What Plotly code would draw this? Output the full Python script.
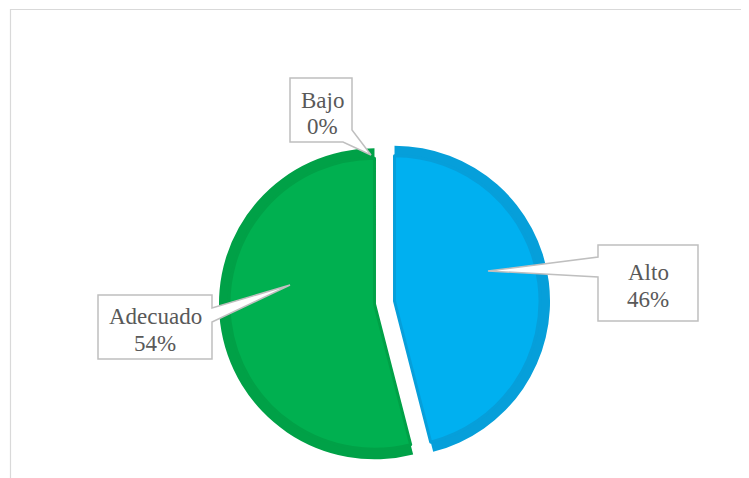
import plotly.graph_objects as go

# ---- data ----
labels = ["Alto", "Adecuado", "Bajo"]
values = [46, 54, 0]
fill_colors = ["#00B0F0", "#00B050", "#00B050"]
edge_colors = ["#069FDA", "#00A147", "#00A147"]

OFF = 8  # page body margin
W, H = 749 - OFF, 478 - OFF
total = sum(values)
name_text = labels
pct_text = [f"{round(v / total * 100)}%" for v in values]


def px(x):
    return (x - OFF) / W


def py(y):
    return 1 - (y - OFF) / H


# pie geometry in page pixels
cx, cy = 384.5, 302.5
R_outer = 155.5          # outer (darker rim) radius
R_inner = 145.5          # inner (fill) radius
explode_px = 10.1        # explosion distance of both slices
explode_mask = [1, 1, 0]


def pie_trace(radius, colors, line_w):
    pull = [m * explode_px / radius for m in explode_mask]
    half = radius + explode_px
    return go.Pie(
        labels=labels,
        values=values,
        sort=False,
        direction="clockwise",
        rotation=0,
        pull=pull,
        textinfo="none",
        hoverinfo="label+percent",
        showlegend=False,
        marker=dict(colors=colors, line=dict(color=edge_colors, width=line_w)),
        domain=dict(x=[px(cx - half), px(cx + half)], y=[py(cy + half), py(cy - half)]),
    )


fig = go.Figure()
fig.add_trace(pie_trace(R_outer, edge_colors, [0, 0, 0]))
fig.add_trace(pie_trace(R_inner, fill_colors, [3, 3, 0]))


def path(points):
    return "M " + " L ".join(f"{px(x):.5f},{py(y):.5f}" for x, y in points) + " Z"


callouts = {
    "Alto": dict(pts=[(598, 245), (698, 245), (698, 321), (598, 321), (598, 277), (488, 271), (598, 257)],
                 x=648, y=(272, 299)),
    "Adecuado": dict(pts=[(98, 295), (212, 295), (212, 308), (290, 285), (212, 322), (212, 359), (98, 359)],
                     x=155, y=(316, 343)),
    "Bajo": dict(pts=[(290, 78), (352, 78), (352, 130), (371, 155), (343, 142), (290, 142)],
                 x=322, y=(100, 127)),
}

shapes = [
    dict(type="rect", xref="paper", yref="paper",
         x0=px(10.5), y0=py(490), x1=px(770), y1=py(9.5),
         line=dict(color="#D9D9D9", width=1.2), fillcolor="rgba(0,0,0,0)", layer="below"),
]
font = dict(family="Liberation Serif", size=23, color="#595959")
annotations = []
for lab, nm, pc in zip(labels, name_text, pct_text):
    c = callouts[lab]
    shapes.append(dict(type="path", xref="paper", yref="paper", path=path(c["pts"]),
                       fillcolor="white", line=dict(color="#BFBFBF", width=1.5), layer="above"))
    for txt, yy in zip((nm, pc), c["y"]):
        annotations.append(dict(x=px(c["x"]), y=py(yy), xref="paper", yref="paper",
                                text=txt, showarrow=False, xanchor="center", yanchor="middle",
                                font=font))

fig.update_layout(
    width=W, height=H, autosize=False,
    margin=dict(l=0, r=0, t=0, b=0),
    paper_bgcolor="white", plot_bgcolor="white",
    shapes=shapes, annotations=annotations,
)

fig.write_html("out.html")
